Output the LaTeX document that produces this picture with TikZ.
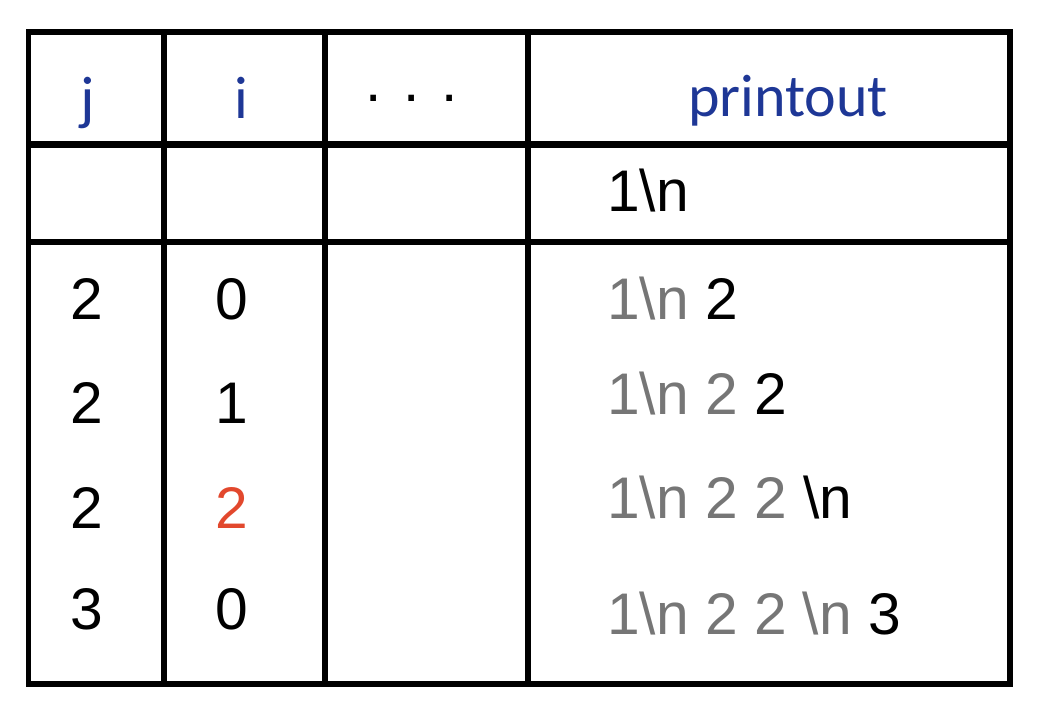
\documentclass[tikz,border=0pt]{standalone}
\usepackage{fontspec}
\setmainfont{Liberation Sans}
\newfontfamily\headfont{Carlito}
\definecolor{headblue}{RGB}{30,55,150}
\definecolor{hotred}{RGB}{226,72,45}
\definecolor{oldgray}{RGB}{118,118,118}
\newcommand\bsn{\textbackslash n}
\begin{document}
\begin{tikzpicture}[x=1pt, y=-1pt,
    cell/.style={anchor=base, inner sep=0pt, font=\fontsize{58.7}{70}\selectfont},
    head/.style={cell, text=headblue, font=\headfont\fontsize{60}{70}\selectfont},
    printcell/.style={cell, anchor=base west}]
  \useasboundingbox (0,0) rectangle (1040,708);
  % frame and grid
  \draw[line width=5.5pt] (28.5,32) rectangle (1010,684);
  \foreach \x in {164, 325, 528}
    \draw[line width=5.5pt] (\x,32) -- (\x,684);
  \foreach \y in {144.5, 242}
    \draw[line width=6.5pt] (28.5,\y) -- (1010,\y);
  % header
  \node[head] (hj) at (88,119) {j};
  \node[head] (hi) at (241,119) {i};
  \node[cell] (hdots) at (412,102) {. . .};
  \node[head] (hout) at (788,117) {printout};
  \node[printcell] (p0) at (607,212) {1\bsn};
  % loop rows
  \foreach \j/\i/\c/\yl/\n in {2/0/black/319/1, 2/1/black/423/2, 2/2/hotred/528/3, 3/0/black/629/4} {
    \node[cell] (j\n) at (87,\yl) {\j};
    \node[cell, text=\c] (i\n) at (232,\yl) {\i};
  }
  \node[printcell] (p1) at (607,319) {\textcolor{oldgray}{1\bsn} 2};
  \node[printcell] (p2) at (607,414) {\textcolor{oldgray}{1\bsn{} 2} 2};
  \node[printcell] (p3) at (607,518) {\textcolor{oldgray}{1\bsn{} 2 2} \bsn};
  \node[printcell] (p4) at (607,634) {\textcolor{oldgray}{1\bsn{} 2 2 \bsn} 3};
\end{tikzpicture}
\end{document}
